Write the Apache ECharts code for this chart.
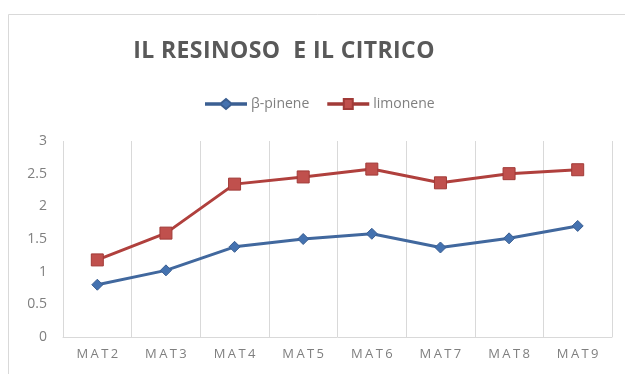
<!DOCTYPE html>
<html>
<head>
<meta charset="utf-8">
<script src="https://cdn.jsdelivr.net/npm/echarts@6/dist/echarts.min.js"></script>
<style>html,body{margin:0;padding:0;background:#fff;}#chart{width:625px;height:374px;}</style>
</head>
<body>
<div id="chart"></div>
<script>
const categories = ['MAT2', 'MAT3', 'MAT4', 'MAT5', 'MAT6', 'MAT7', 'MAT8', 'MAT9'];
const pinene = [0.80, 1.02, 1.38, 1.50, 1.58, 1.37, 1.51, 1.70];
const limonene = [1.18, 1.59, 2.34, 2.45, 2.57, 2.36, 2.50, 2.56];
const yTicks = [0, 0.5, 1, 1.5, 2, 2.5, 3];
const chartTitle = 'IL RESINOSO  E IL CITRICO';

// Legend keys: a short line with the series marker in its middle
const diamondKey = 'path://M0,4.2H15L20,0L25,4.2H40V5.8H25L20,10L15,5.8H0Z';
const squareKey = 'path://M0,4.2H15.5V0H24.5V4.2H40V5.8H24.5V10H15.5V5.8H0Z';

// Spread the letters of a text a little, one rich fragment per character
function spaced(text, style) {
  return text.split('').map(ch => '{' + style + '|' + ch + '}').join('');
}

const chart = echarts.init(document.getElementById('chart'));
chart.setOption({
  backgroundColor: '#fff',
  animation: false,
  graphic: [{
    type: 'rect',
    shape: { x: 8.5, y: 14.5, width: 640, height: 400 },
    style: { fill: 'none', stroke: '#d9d9d9', lineWidth: 1 },
    silent: true
  }],
  title: {
    text: spaced(chartTitle, 't'),
    left: 128,
    top: 35,
    textStyle: {
      rich: { t: { fontFamily: 'Open Sans', fontWeight: 'bold', fontSize: 23, color: '#595959', padding: [0, 0.2] } }
    }
  },
  legend: {
    top: 92,
    left: 200,
    itemWidth: 40,
    itemHeight: 10,
    itemGap: 18,
    textStyle: { fontFamily: 'Open Sans', fontSize: 14, color: '#7f7f7f' },
    data: [
      { name: 'β-pinene', icon: diamondKey },
      { name: 'limonene', icon: squareKey }
    ]
  },
  grid: { left: 63, right: 13, top: 141, bottom: 37 },
  xAxis: {
    type: 'category',
    data: categories,
    boundaryGap: true,
    axisLine: { show: true, lineStyle: { color: '#d9d9d9' } },
    axisTick: { show: false },
    splitLine: { show: true, interval: 0, lineStyle: { color: '#d9d9d9', width: 1 } },
    axisLabel: {
      interval: 0,
      margin: 11,
      formatter: v => spaced(v, 'c'),
      rich: { c: { fontFamily: 'Open Sans', fontSize: 13, color: '#7f7f7f', padding: [0, 1.2] } }
    }
  },
  yAxis: {
    type: 'value',
    min: yTicks[0],
    max: yTicks[yTicks.length - 1],
    interval: 0.5,
    axisLine: { show: false },
    axisTick: { show: false },
    splitLine: { show: false },
    axisLabel: { fontFamily: 'Open Sans', fontSize: 14, color: '#7f7f7f', margin: 16 }
  },
  series: [
    {
      name: 'β-pinene',
      type: 'line',
      data: pinene,
      symbol: 'diamond',
      symbolSize: 11,
      color: '#41689e',
      lineStyle: { color: '#41689e', width: 3 },
      itemStyle: { color: '#4472b0', borderColor: '#3b5f92', borderWidth: 1 }
    },
    {
      name: 'limonene',
      type: 'line',
      data: limonene,
      symbol: 'rect',
      symbolSize: 12,
      color: '#b0403d',
      lineStyle: { color: '#b0403d', width: 3 },
      itemStyle: { color: '#c0504d', borderColor: '#a13a37', borderWidth: 1 }
    }
  ]
});
</script>
</body>
</html>
